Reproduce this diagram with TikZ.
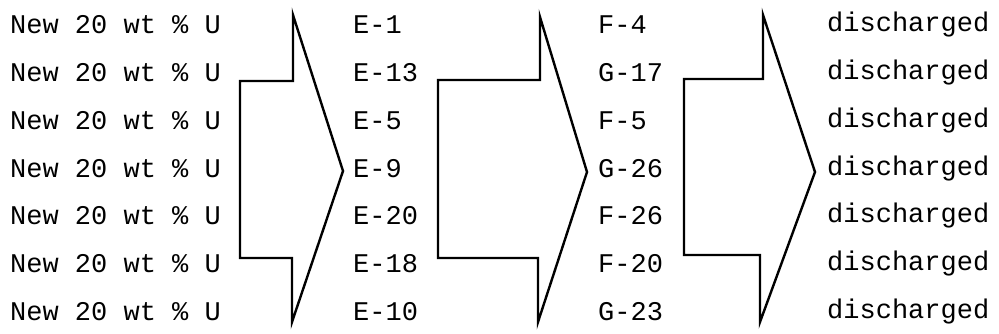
\documentclass[tikz,border=0pt]{standalone}
\usepackage{fontspec}
\setmonofont{Liberation Mono}
\begin{document}
\begin{tikzpicture}[x=1pt,y=-1pt,
  lbl/.style={anchor=west,inner sep=0pt,font=\ttfamily\fontsize{27}{29}\selectfont},
  bigarrow/.style={draw=black,line width=2.4pt,line join=miter}]
\useasboundingbox (0,0) rectangle (999,333);
\foreach \i/\a/\b/\c in {1/E-1/F-4/discharged,2/E-13/G-17/discharged,3/E-5/F-5/discharged,4/E-9/G-26/discharged,5/E-20/F-26/discharged,6/E-18/F-20/discharged,7/E-10/G-23/discharged}{
  \node[lbl] (n\i) at (10,{25+47.7*(\i-1)}) {New 20 wt \% U};
  \node[lbl] (e\i) at (353,{25+47.7*(\i-1)}) {\a};
  \node[lbl] (f\i) at (598,{25+47.7*(\i-1)}) {\b};
  \node[lbl] (d\i) at (827,{25+47.7*(\i-1)}) {\c};
}
\draw[bigarrow] (240,258) -- (240,81) -- (293,81) -- (293,15) -- (343,171) -- (292,322) -- (292,258) -- cycle;
\draw[bigarrow] (438,258) -- (438,80) -- (540,80) -- (540,17) -- (587,172) -- (538,322) -- (538,258) -- cycle;
\draw[bigarrow] (684,255) -- (684,79) -- (763,79) -- (763,15) -- (815,172) -- (760,322) -- (760,255) -- cycle;
\end{tikzpicture}
\end{document}
